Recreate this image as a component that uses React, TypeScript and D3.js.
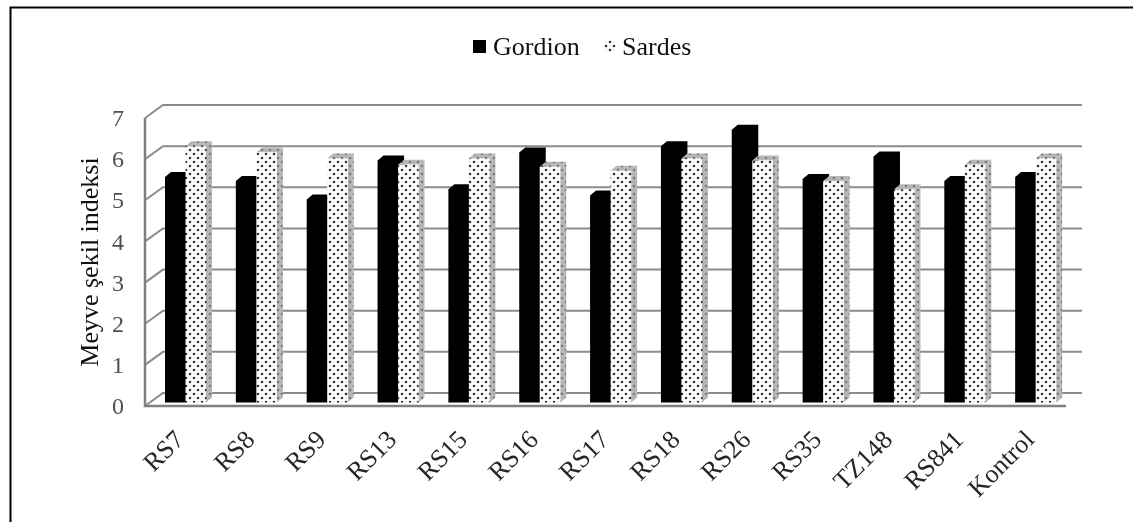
import { useRef, useEffect } from 'react';
import * as d3 from 'd3';

const WIDTH = 1140;
const HEIGHT = 522;

const categories = ['RS7', 'RS8', 'RS9', 'RS13', 'RS15', 'RS16', 'RS17', 'RS18', 'RS26', 'RS35', 'TZ148', 'RS841', 'Kontrol'];
const seriesNames = ['Gordion', 'Sardes'];
const gordion = [5.5, 5.4, 4.95, 5.9, 5.2, 6.1, 5.05, 6.25, 6.65, 5.45, 6.0, 5.4, 5.5];
const sardes = [6.25, 6.1, 5.95, 5.8, 5.95, 5.75, 5.65, 5.95, 5.9, 5.4, 5.2, 5.8, 5.95];
const yTicks = [0, 1, 2, 3, 4, 5, 6, 7];

const FONT = '"Liberation Serif", "Times New Roman", serif';
const GRID = '#8c8c8c';
// 3D offsets: back wall relative to the front axis, bar depth relative to its face
const WALL_DX = 18;
const WALL_DY = -13;
const BAR_DX = 6;
const BAR_DY = -5;

export default function App() {
  const svgRef = useRef<SVGSVGElement>(null);

  useEffect(() => {
    if (!svgRef.current) return;
    const svg = d3.select(svgRef.current);
    svg.selectAll('*').remove();

    const x = d3.scaleBand<string>().domain(categories).range([145, 1066]);
    const xSeries = d3.scaleBand<string>().domain(seriesNames).range([20, 61]);
    const yFront = d3.scaleLinear().domain([0, 7]).range([406, 118]);
    const yBar = d3.scaleLinear().domain([0, 7]).range([402.5, 115.5]);

    // dot fill used by the Sardes bars
    const defs = svg.append('defs');
    const addPattern = (id: string, bg: string, dot: string, faint: string) => {
      const p = defs.append('pattern')
        .attr('id', id)
        .attr('width', 8)
        .attr('height', 8)
        .attr('patternUnits', 'userSpaceOnUse');
      p.append('rect').attr('width', 8).attr('height', 8).attr('fill', bg);
      [[2, 2], [6, 6]].forEach(([cx, cy]) => {
        p.append('circle').attr('cx', cx).attr('cy', cy).attr('r', 1.3).attr('fill', dot);
      });
      p.append('circle').attr('cx', 6).attr('cy', 2).attr('r', 0.7).attr('fill', faint);
      p.append('circle').attr('cx', 2).attr('cy', 6).attr('r', 0.7).attr('fill', faint);
    };
    addPattern('dots', '#ffffff', '#333333', '#d4d4d4');
    addPattern('dotsSide', '#b8b8b8', '#7a7a7a', '#a8a8a8');

    // outer frame, only the top and left edges are visible
    svg.append('path')
      .attr('d', `M10.5,${HEIGHT} V7.5 H${WIDTH - 7}`)
      .attr('fill', 'none')
      .attr('stroke', '#000')
      .attr('stroke-width', 2);

    // back wall gridlines and their diagonal floor/side links
    const grid = svg.append('g');
    yTicks.forEach((t) => {
      const yf = yFront(t);
      grid.append('path')
        .attr('d', `M145,${yf} L${145 + WALL_DX},${yf + WALL_DY} H${1066 + 16}`)
        .attr('fill', 'none')
        .attr('stroke', GRID)
        .attr('stroke-width', 2);
    });

    // front axis lines
    grid.append('path')
      .attr('d', `M145,${yFront(7)} V${yFront(0)} H1066`)
      .attr('fill', 'none')
      .attr('stroke', '#7f7f7f')
      .attr('stroke-width', 2.5);

    // bars
    const bars = svg.append('g');
    categories.forEach((cat, i) => {
      const x0 = x(cat)! + xSeries('Gordion')!;
      const x1 = x(cat)! + xSeries('Sardes')!;
      const w = xSeries.bandwidth();
      const base = yBar(0);

      const topG = yBar(gordion[i]);
      bars.append('path')
        .attr('d', `M${x0},${base} V${topG} L${x0 + BAR_DX},${topG + BAR_DY} H${x0 + w + BAR_DX} V${base + BAR_DY} L${x0 + w},${base} Z`)
        .attr('fill', '#000');

      const topS = yBar(sardes[i]);
      bars.append('path')
        .attr('d', `M${x1},${topS} L${x1 + BAR_DX},${topS + BAR_DY} H${x1 + w + BAR_DX} L${x1 + w},${topS} Z`)
        .attr('fill', 'url(#dotsSide)');
      bars.append('path')
        .attr('d', `M${x1 + w},${base} V${topS} L${x1 + w + BAR_DX},${topS + BAR_DY} V${base + BAR_DY} Z`)
        .attr('fill', 'url(#dotsSide)');
      bars.append('rect')
        .attr('x', x1)
        .attr('y', topS)
        .attr('width', w)
        .attr('height', base - topS)
        .attr('fill', 'url(#dots)');
    });

    // Y axis
    svg.append('g')
      .attr('transform', 'translate(124,0)')
      .call(d3.axisLeft(yFront).tickValues(yTicks).tickSize(0).tickPadding(0).tickFormat((d) => `${d}`))
      .call((g) => g.select('.domain').remove())
      .call((g) => g.selectAll('.tick text')
        .attr('fill', '#505050')
        .attr('font-family', FONT)
        .attr('font-size', 24));

    // X axis, labels rotated by 45 degrees
    svg.append('g')
      .attr('transform', 'translate(0,406)')
      .call(d3.axisBottom(x).tickSize(0).tickPadding(0))
      .call((g) => g.select('.domain').remove())
      .call((g) => g.selectAll('.tick text')
        .attr('fill', '#262626')
        .attr('font-family', FONT)
        .attr('font-size', 26)
        .attr('text-anchor', 'end')
        .attr('y', 0)
        .attr('dy', 0)
        .attr('transform', 'translate(5,35) rotate(-45)'));

    // Y axis title
    svg.append('text')
      .attr('transform', 'translate(98,262) rotate(-90)')
      .attr('text-anchor', 'middle')
      .attr('fill', '#111')
      .attr('font-family', FONT)
      .attr('font-size', 26)
      .text('Meyve şekil indeksi');

    // legend
    const legend = svg.append('g').attr('font-family', FONT).attr('font-size', 26).attr('fill', '#111');
    legend.append('rect').attr('x', 473).attr('y', 40).attr('width', 13).attr('height', 13).attr('fill', '#000');
    legend.append('text').attr('x', 493).attr('y', 55).text(seriesNames[0]);
    legend.append('rect').attr('x', 604).attr('y', 40).attr('width', 12).attr('height', 12).attr('fill', 'url(#dots)');
    legend.append('text').attr('x', 622).attr('y', 55).text(seriesNames[1]);
  }, []);

  return (
    <svg
      ref={svgRef}
      width={WIDTH}
      height={HEIGHT}
      style={{ position: 'fixed', left: 0, top: 0, display: 'block', background: '#fff', filter: 'blur(0.4px)' }}
    />
  );
}
